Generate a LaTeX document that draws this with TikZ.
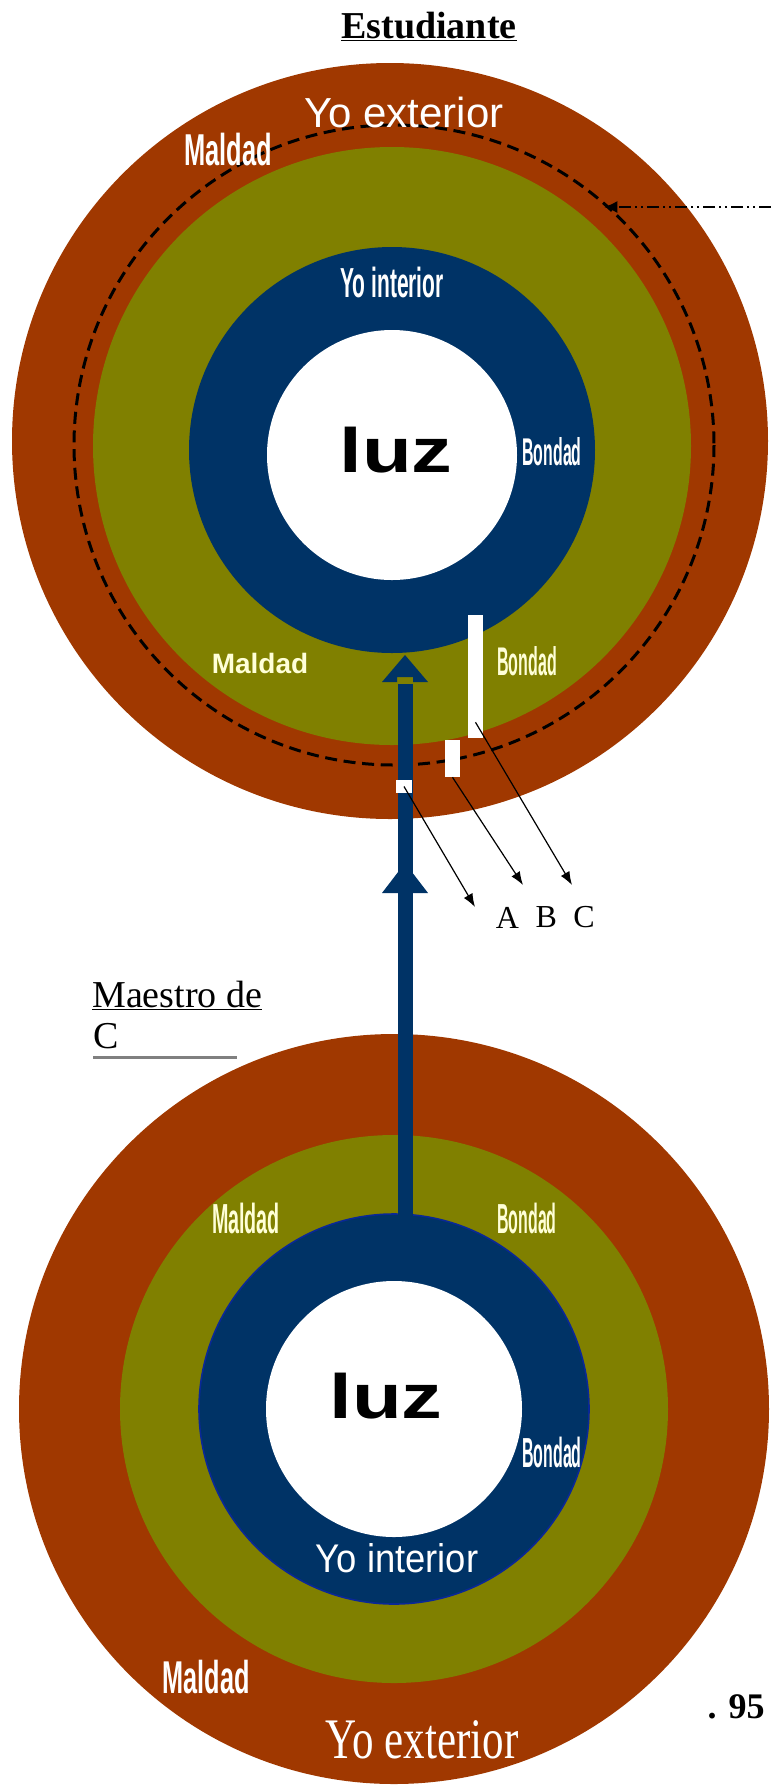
\documentclass[tikz,border=0pt]{standalone}
\usepackage{fontspec}
\usepackage{graphicx}
\setmainfont{Liberation Serif}
\newfontfamily\arialfam{Liberation Sans}
\usetikzlibrary{positioning,arrows.meta}
\definecolor{brownring}{RGB}{160,56,0}
\definecolor{olivering}{RGB}{128,128,0}
\definecolor{navyring}{RGB}{0,51,102}
\definecolor{navyedge}{RGB}{10,40,150}
\definecolor{creamtext}{RGB}{255,255,215}
\newcommand{\squeeze}[2]{\scalebox{#1}[1]{#2}}

\begin{document}
\begin{tikzpicture}[x=0.75pt,y=-0.75pt,>={Latex[length=10pt,width=7.5pt]},
    ringtxt/.style={inner sep=0pt,anchor=base,text=white,font=\arialfam\bfseries\fontsize{#1}{#1}\selectfont},
    plaintxt/.style={inner sep=0pt,anchor=base,text=white,font=\arialfam\fontsize{#1}{#1}\selectfont},
    luztxt/.style={inner sep=0pt,anchor=base,font=\arialfam\bfseries\fontsize{47}{47}\selectfont},
    romantxt/.style={inner sep=0pt,anchor=base,font=\fontsize{#1}{#1}\selectfont},
    bar/.style={fill=white,inner sep=0pt,minimum width=11.25pt},
    shaft/.style={navyring,line width=11.25pt},
    pointer/.style={->,line width=0.9pt}]
    \useasboundingbox (0,0) rectangle (771,1786);

    % Estudiante (top)
    \coordinate (stu) at (390,441);
    \fill[brownring] (stu) circle (378);
    \draw[line width=2.25pt,dash pattern=on 9pt off 5pt] (394,445) circle (320);
    \fill[olivering] (392,446) circle (299);
    \fill[navyring] (392,450) circle (203);
    \fill[white] (392,455) circle (125);

    % Maestro (bottom)
    \coordinate (mae) at (394,1409);
    \fill[brownring] (mae) circle (375);
    \fill[olivering] (mae) circle (274);
    \filldraw[navyring,draw=navyedge,line width=1.2pt] (mae) circle (195);
    \fill[white] (mae) circle (128);

    % shaft between both
    \coordinate (shaftfoot) at (405,1216);
    \coordinate (shafttop) at (405,684);
    \draw[shaft] (shaftfoot) -- (shafttop);
    \fill[navyring] (405,655) -- (428,682) -- (413,682) -- (413,677) -- (397,677) -- (397,682) -- (382,682) -- cycle;
    \fill[navyring] (405,863) -- (428,893) -- (382,893) -- cycle;

    \node[bar,minimum height=92.25pt] (barC) at (475.5,676.5) {};
    \node[bar,minimum height=27.75pt] (barB) at (452.5,758.5) {};
    \node[bar,minimum height=9.75pt,minimum width=12pt] (barA) at (404,786.5) {};

    \node[romantxt=24] (labA) at (507.5,928) {A};
    \node[romantxt=24,right=12pt of labA] (labB) {B};
    \node[romantxt=24,right=12pt of labB] (labC) {C};
    \coordinate (tipA) at (475,907);
    \coordinate (tipB) at (523,885);
    \coordinate (tipC) at (572,885);
    \draw[pointer] (barA.center) -- (tipA);
    \draw[pointer] (barB.south) -- (tipB);
    \draw[pointer] ([yshift=12pt]barC.south) -- (tipC);

    \coordinate (rimpoint) at (604,207);
    \coordinate (pageedge) at (771,207);
    \draw[->,>={Latex[length=10pt,width=9pt]},line width=1.2pt,
        dash pattern=on 9pt off 3pt on 1.5pt off 3pt on 1.5pt off 3pt] (pageedge) -- (rimpoint);

    % texts
    \node[romantxt=28.5] (title) at (429,38) {\bfseries\underline{Estudiante}};
    \node[romantxt=28.5,anchor=base west] (maestro) at (92,1007) {\underline{Maestro de}};
    \node[romantxt=28.5,anchor=base west] (maestroC) at (93,1048) {C};
    \draw[gray,line width=2.25pt] ([yshift=-7pt]maestroC.base west) -- ++(144,0);
    \node[romantxt=27,anchor=base east] (page) at (765,1718) {\bfseries . 95};

    \node[plaintxt=31.5] (yoextS) at (404,127) {Yo exterior};
    \node[ringtxt=33.5] (maldadS1) at (228,165) {\squeeze{0.57}{Maldad}};
    \node[ringtxt=31.5] (yointS) at (392,297) {\squeeze{0.5}{Yo interior}};
    \node[luztxt] (luzS) at (396,472) {\squeeze{1.3}{luz}};
    \node[ringtxt=29] (bondadS1) at (552,465) {\squeeze{0.41}{Bondad}};
    \node[ringtxt=21,text=creamtext] (maldadS2) at (260,673) {Maldad};
    \node[ringtxt=30,text=creamtext] (bondadS2) at (527,675) {\squeeze{0.4}{Bondad}};

    \node[ringtxt=31.5,text=creamtext] (maldadM1) at (246,1233) {\squeeze{0.47}{Maldad}};
    \node[ringtxt=31.5,text=creamtext] (bondadM1) at (527,1233) {\squeeze{0.38}{Bondad}};
    \node[luztxt] (luzM) at (386,1418) {\squeeze{1.3}{luz}};
    \node[ringtxt=31.5] (bondadM2) at (552,1467) {\squeeze{0.38}{Bondad}};
    \node[plaintxt=30] (yointM) at (397,1572) {\squeeze{0.91}{Yo interior}};
    \node[ringtxt=34.5] (maldadM2) at (206,1693) {\squeeze{0.55}{Maldad}};
    \node[romantxt=43,text=white] (yoextM) at (422,1758) {\squeeze{0.75}{Yo exterior}};
\end{tikzpicture}
\end{document}
